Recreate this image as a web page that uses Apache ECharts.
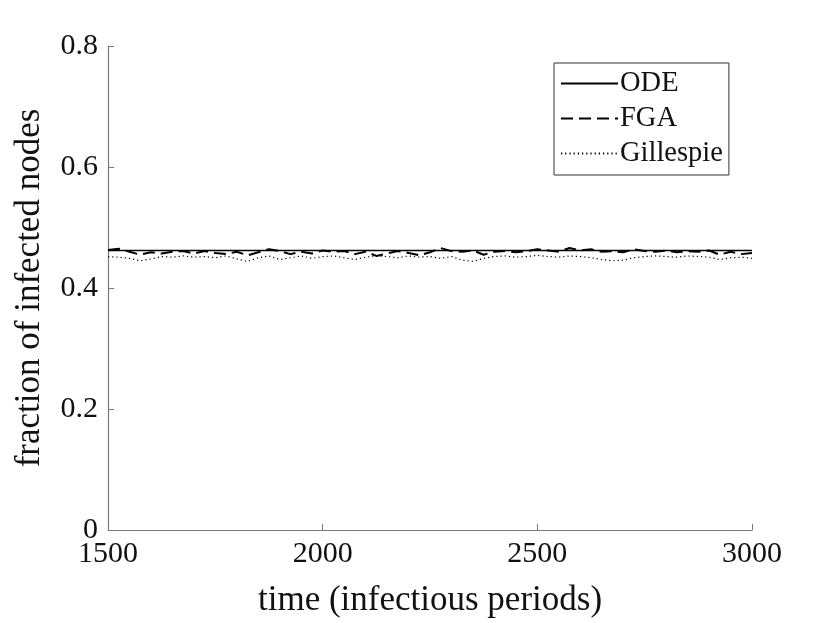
<!DOCTYPE html>
<html>
<head>
<meta charset="utf-8">
<script src="https://cdn.jsdelivr.net/npm/echarts@6/dist/echarts.min.js"></script>
<style>
  html, body { margin: 0; padding: 0; background: #fff; }
  #chart { width: 830px; height: 623px; }
</style>
</head>
<body>
<div id="chart"></div>
<script>
// time samples (infectious periods)
const times = [
  1500, 1525, 1550, 1575, 1600, 1625, 1650, 1675, 1700, 1725, 1750, 1775, 1800, 1825, 1850, 1875,
  1900, 1925, 1950, 1975, 2000, 2025, 2050, 2075, 2100, 2125, 2150, 2175, 2200, 2225, 2250, 2275,
  2300, 2325, 2350, 2375, 2400, 2425, 2450, 2475, 2500, 2525, 2550, 2575, 2600, 2625, 2650, 2675,
  2700, 2725, 2750, 2775, 2800, 2825, 2850, 2875, 2900, 2925, 2950, 2975, 3000
];

const odeTimes = [1500, 3000];
const odeVals = [0.462, 0.462];

const fgaVals = [
  0.463, 0.465, 0.460, 0.455, 0.459, 0.457, 0.460, 0.461, 0.457, 0.461, 0.458, 0.456, 0.460, 0.454, 0.459, 0.464,
  0.461, 0.456, 0.460, 0.457, 0.462, 0.460, 0.461, 0.456, 0.460, 0.453, 0.457, 0.461, 0.458, 0.454, 0.459, 0.466,
  0.461, 0.460, 0.462, 0.455, 0.460, 0.461, 0.459, 0.461, 0.464, 0.462, 0.460, 0.466, 0.462, 0.464, 0.460, 0.461,
  0.459, 0.464, 0.461, 0.460, 0.462, 0.459, 0.461, 0.460, 0.462, 0.455, 0.460, 0.456, 0.458
];

const gillVals = [
  0.452, 0.451, 0.449, 0.445, 0.448, 0.452, 0.451, 0.453, 0.451, 0.452, 0.450, 0.453, 0.448, 0.444, 0.450, 0.453,
  0.447, 0.450, 0.453, 0.449, 0.452, 0.453, 0.450, 0.447, 0.451, 0.453, 0.452, 0.450, 0.453, 0.451, 0.452, 0.449,
  0.452, 0.446, 0.444, 0.449, 0.452, 0.453, 0.451, 0.452, 0.454, 0.452, 0.451, 0.453, 0.452, 0.450, 0.447, 0.445,
  0.446, 0.450, 0.452, 0.453, 0.452, 0.451, 0.453, 0.452, 0.451, 0.447, 0.450, 0.451, 0.449
];

const xTicks = [1500, 2000, 2500, 3000];
const yTicks = [0, 0.2, 0.4, 0.6, 0.8];

function pairs(xs, ys) {
  return xs.map(function (x, i) { return [x, ys[i]]; });
}

const serif = '"Liberation Serif", "DejaVu Serif", serif';
const axisGrey = '#7a7a7a';

let myChart = echarts.init(document.getElementById('chart'));
let option = {
  animation: false,
  backgroundColor: '#fff',
  grid: { left: 108, right: 78, top: 46, bottom: 92 },
  legend: {
    orient: 'vertical',
    left: 554,
    top: 63,
    padding: [6, 6, 7, 6],
    itemGap: 6,
    itemWidth: 57,
    itemHeight: 2,
    backgroundColor: '#fff',
    borderColor: '#333',
    borderWidth: 1,
    borderRadius: 0,
    itemStyle: { color: 'rgba(0,0,0,0)', borderWidth: 0, opacity: 0 },
    textStyle: { fontFamily: serif, fontSize: 28.5, color: '#111', width: 118, padding: [0, 0, 0, -3] },
    data: ['ODE', 'FGA', 'Gillespie']
  },
  xAxis: {
    type: 'value',
    min: xTicks[0],
    max: xTicks[xTicks.length - 1],
    interval: 500,
    name: 'time (infectious periods)',
    nameLocation: 'middle',
    nameGap: 53,
    nameTextStyle: { fontFamily: serif, fontSize: 35, color: '#111' },
    axisLine: { lineStyle: { color: axisGrey, width: 1.2 } },
    axisTick: { inside: true, length: 6, lineStyle: { color: axisGrey } },
    axisLabel: {
      fontFamily: serif, fontSize: 30, color: '#111', margin: 9,
      formatter: function (v) { return String(v); }
    },
    splitLine: { show: false }
  },
  yAxis: {
    type: 'value',
    min: yTicks[0],
    max: yTicks[yTicks.length - 1],
    interval: 0.2,
    name: 'fraction of infected nodes',
    nameLocation: 'middle',
    nameGap: 61,
    nameTextStyle: { fontFamily: serif, fontSize: 35, color: '#111' },
    axisLine: { show: true, lineStyle: { color: axisGrey, width: 1.2 } },
    axisTick: { show: true, inside: true, length: 6, lineStyle: { color: axisGrey } },
    axisLabel: { fontFamily: serif, fontSize: 30, color: '#111', margin: 10 },
    splitLine: { show: false }
  },
  series: [
    {
      name: 'ODE',
      type: 'line',
      symbol: 'none',
      data: pairs(odeTimes, odeVals),
      lineStyle: { color: '#000', width: 1.6, type: 'solid' },
      itemStyle: { color: '#000' }
    },
    {
      name: 'FGA',
      type: 'line',
      symbol: 'none',
      data: pairs(times, fgaVals),
      lineStyle: { color: '#000', width: 2, type: [12, 6] },
      itemStyle: { color: '#000' }
    },
    {
      name: 'Gillespie',
      type: 'line',
      symbol: 'none',
      data: pairs(times, gillVals),
      lineStyle: { color: '#000', width: 1.2, type: [1.2, 3] },
      itemStyle: { color: '#000' }
    }
  ]
};

option && myChart.setOption(option);
</script>
</body>
</html>
